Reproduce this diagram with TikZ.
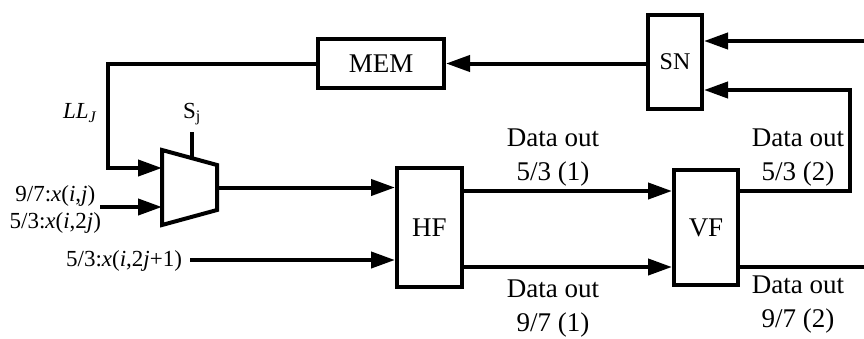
\documentclass[tikz,border=0pt]{standalone}
\usepackage{fontspec}
\setmainfont{Liberation Serif}
\usetikzlibrary{arrows.meta}

\begin{document}
\begin{tikzpicture}[x=1pt,y=-1pt,line width=4pt,
  blk/.style={draw=black,rectangle,inner sep=0pt,font=\fontsize{27}{34}\selectfont},
  lbl/.style={align=center,inner sep=0pt,font=\fontsize{27}{34}\selectfont},
  inlbl/.style={align=center,inner sep=0pt,font=\fontsize{23}{27}\selectfont},
  arr/.style={-{Triangle[length=24pt,width=16pt]}}]
\useasboundingbox (0,0) rectangle (864,338);
% blocks
\node [blk,minimum width=126pt,minimum height=49pt] (mem) at (381,63.5) {MEM};
\node [blk,minimum width=54pt,minimum height=94pt,font=\fontsize{24}{27}\selectfont] (sn) at (675,62) {SN};
\node [blk,minimum width=65pt,minimum height=119pt] (hf) at (429.5,227.5) {HF};
\node [blk,minimum width=64pt,minimum height=115pt] (vf) at (706,227.5) {VF};
% multiplexer
\draw [black,line join=miter] (162,150) -- (217,165) -- (217,210) -- (162,225) -- cycle;
\coordinate (muxin1) at (162,168);
\coordinate (muxin2) at (162,207);
\coordinate (muxout) at (217,187.5);
\coordinate (muxsel) at (192,158);
\coordinate (sel) at (192,132);
\node [inlbl] (sj) at (192,114) {S\textsubscript{j}};
\draw [black] (sel) -- (muxsel);
% inputs
\node [inlbl] (llj) at (80,113) {\textit{LL}\textsubscript{\textit{J}}};
\node [inlbl,anchor=east] (xin) at (103,209) {9/7:\textit{x}(\textit{i},\textit{j})\\5/3:\textit{x}(\textit{i},2\textit{j})};
\node [inlbl,anchor=east] (xodd) at (184,261) {5/3:\textit{x}(\textit{i},2\textit{j}+1)};
\coordinate (ll) at (108,63.5);
\coordinate (x1) at (100,207);
\coordinate (x2) at (190,260);
\draw [arr] (mem.west) -- (ll) |- (muxin1);
\draw [arr] (x1) -- (muxin2);
\draw [arr] (muxout) -- (muxout -| hf.west);
\draw [arr] (x2) -- (x2 -| hf.west);
% filter outputs
\coordinate (d1) at (0,191);
\coordinate (d2) at (0,267);
\draw [arr] (hf.east |- d1) -- (vf.west |- d1);
\draw [arr] (hf.east |- d2) -- (vf.west |- d2);
\node [lbl] (out53a) at (553,158) {Data out\\5/3 (1)};
\node [lbl] (out97a) at (553,309) {Data out\\9/7 (1)};
\node [lbl] (out53b) at (798,158) {Data out\\5/3 (2)};
\node [lbl] (out97b) at (798,305) {Data out\\9/7 (2)};
% feedback
\coordinate (fb) at (850,90);
\coordinate (e1) at (864,41);
\coordinate (e2) at (864,267);
\draw [arr] (vf.east |- d1) -| (fb) -- (fb -| sn.east);
\draw [arr] (e1) -- (e1 -| sn.east);
\draw [black] (vf.east |- d2) -- (e2);
\draw [arr] (sn.west |- mem.east) -- (mem.east);
\end{tikzpicture}
\end{document}
